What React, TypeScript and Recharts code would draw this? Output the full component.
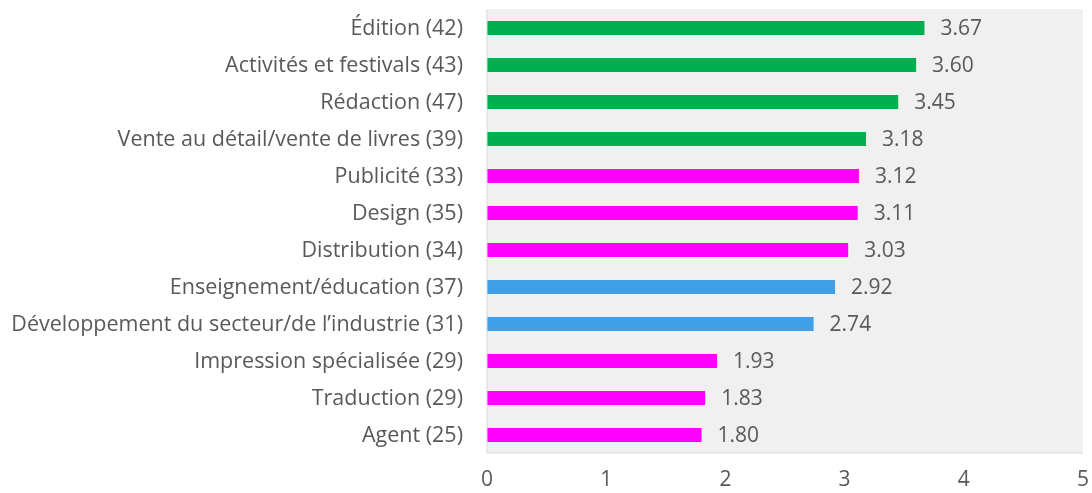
import { Bar, BarChart, CartesianGrid, Cell, LabelList, XAxis, YAxis } from 'recharts';

const categories = [
  'Édition (42)',
  'Activités et festivals (43)',
  'Rédaction (47)',
  'Vente au détail/vente de livres (39)',
  'Publicité (33)',
  'Design (35)',
  'Distribution (34)',
  'Enseignement/éducation (37)',
  'Développement du secteur/de l’industrie (31)',
  'Impression spécialisée (29)',
  'Traduction (29)',
  'Agent (25)',
];

const scores = [3.67, 3.6, 3.45, 3.18, 3.12, 3.11, 3.03, 2.92, 2.74, 1.93, 1.83, 1.8];

const groups = ['top', 'top', 'top', 'top', 'mid', 'mid', 'mid', 'dev', 'dev', 'mid', 'mid', 'mid'];

const xTicks = [0, 1, 2, 3, 4, 5];

const groupColors: Record<string, string> = {
  top: '#00b050',
  mid: '#ff00ff',
  dev: '#419fe6',
};

const data = categories.map((name, i) => ({ name, value: scores[i], group: groups[i] }));

const font = '"Open Sans", Lato, sans-serif';

export default function App() {
  return (
    <div style={{ position: 'fixed', top: 0, left: 0 }}>
      <BarChart
        width={1092}
        height={493}
        data={data}
        layout="vertical"
        margin={{ top: 9, right: 9, bottom: 0, left: 0 }}
        style={{ fontFamily: font }}
      >
        <CartesianGrid fill="#f0f0f0" stroke="none" horizontal={false} vertical={false} />
        <XAxis
          type="number"
          domain={[0, 5]}
          ticks={xTicks}
          height={40}
          tickLine={false}
          tickMargin={12}
          stroke="#d9d9d9"
          tick={{ fill: '#595959', fontSize: 21 }}
        />
        <YAxis
          type="category"
          dataKey="name"
          width={487}
          tickLine={false}
          tickMargin={18}
          stroke="#d9d9d9"
          interval={0}
          tick={{ fill: '#595959', fontSize: 21.5 }}
        />
        <Bar dataKey="value" barSize={14} isAnimationActive={false}>
          {data.map((d) => (
            <Cell key={d.name} fill={groupColors[d.group]} />
          ))}
          <LabelList
            dataKey="value"
            position="right"
            offset={16}
            formatter={(v: any) => Number(v).toFixed(2)}
            style={{ fill: '#595959', fontSize: 21 }}
          />
        </Bar>
      </BarChart>
    </div>
  );
}
